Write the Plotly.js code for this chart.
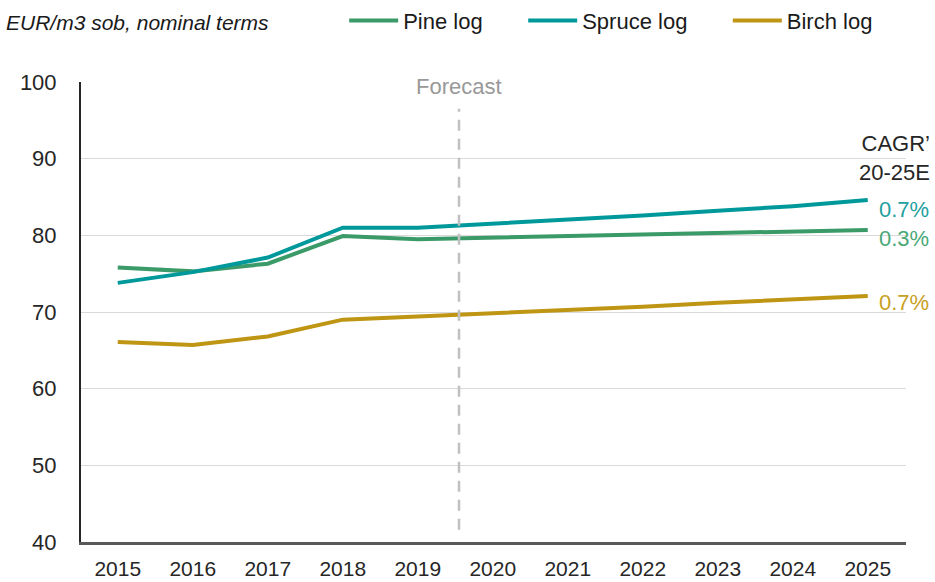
<!DOCTYPE html>
<html>
<head>
<meta charset="utf-8">
<script src="https://cdn.plot.ly/plotly-3.0.1.min.js"></script>
<style>html,body{margin:0;padding:0;background:#fff;}#chart{width:935px;height:582px;}</style>
</head>
<body>
<div id="chart"></div>
<script>
const years = [2015, 2016, 2017, 2018, 2019, 2020, 2021, 2022, 2023, 2024, 2025];
const pineLog   = [75.8, 75.3, 76.3, 79.9, 79.5, 79.7, 79.9, 80.1, 80.3, 80.5, 80.7];
const spruceLog = [73.8, 75.2, 77.1, 81.0, 81.0, 81.5, 82.0, 82.6, 83.2, 83.8, 84.6];
const birchLog  = [66.1, 65.7, 66.8, 69.0, 69.4, 69.8, 70.3, 70.7, 71.2, 71.7, 72.1];
const seriesNames = ["Pine log", "Spruce log", "Birch log"];
const cagrLabels = ["0.3%", "0.7%", "0.7%"];
const forecastStart = 2019.55;
const yTicks = [40, 50, 60, 70, 80, 90, 100];

const colPine = "#3a9a68", colSpruce = "#00999b", colBirch = "#bf9514";
const font = "Liberation Sans, Arial, sans-serif";

const traces = [
  {x: years, y: pineLog, name: seriesNames[0], mode: "lines", line: {color: colPine, width: 4}, legend: "legend"},
  {x: years, y: spruceLog, name: seriesNames[1], mode: "lines", line: {color: colSpruce, width: 4}, legend: "legend2"},
  {x: years, y: birchLog, name: seriesNames[2], mode: "lines", line: {color: colBirch, width: 4}, legend: "legend3"}
];

const legBase = {orientation: "h", yanchor: "middle", y: 1.133, xanchor: "left", itemwidth: 49,
  font: {family: font, size: 22, color: "#1a1a1a"}, bgcolor: "rgba(0,0,0,0)", borderwidth: 0};

const last = years.length - 1;
const layout = {
  width: 935, height: 582,
  margin: {l: 81, r: 29, t: 82, b: 39.5, autoexpand: false},
  paper_bgcolor: "#fff", plot_bgcolor: "#fff",
  font: {family: font, size: 21, color: "#262626"},
  showlegend: true,
  legend: Object.assign({}, legBase, {x: 0.319}),
  legend2: Object.assign({}, legBase, {x: 0.536}),
  legend3: Object.assign({}, legBase, {x: 0.784}),
  xaxis: {
    range: [2014.51, 2025.51], tickvals: years, ticktext: years.map(String),
    showgrid: false, zeroline: false, showline: true, linecolor: "#595959", linewidth: 2.5,
    ticks: "", ticklabelstandoff: 6, tickfont: {family: font, size: 21, color: "#262626"}
  },
  yaxis: {
    range: [40, 100], tickvals: yTicks, showgrid: true, gridcolor: "#d9d9d9", gridwidth: 1,
    zeroline: false, showline: true, linecolor: "#262626", linewidth: 2,
    ticks: "", ticklabelstandoff: 18, tickfont: {family: font, size: 22, color: "#262626"}
  },
  shapes: [
    {type: "line", xref: "x", yref: "y", x0: forecastStart, x1: forecastStart, y0: 41.6, y1: 96.5,
     line: {color: "#c0c0c0", width: 2.5, dash: "11px,8px"}}
  ],
  annotations: [
    {xref: "paper", yref: "paper", x: -0.093, y: 1.129, xanchor: "left", yanchor: "middle", showarrow: false,
     text: "<i>EUR/m3 sob, nominal terms</i>", font: {family: font, size: 21, color: "#1a1a1a"}},
    {xref: "x", yref: "y", x: forecastStart, y: 100, yshift: -4, xanchor: "center", yanchor: "middle", showarrow: false,
     text: "Forecast", font: {family: font, size: 22, color: "#999999"}},
    {xref: "paper", yref: "paper", x: 1.031, y: 0.835, xanchor: "right", yanchor: "middle", showarrow: false,
     text: "CAGR’<br>20-25E", align: "right", font: {family: font, size: 22, color: "#262626"}},
    {xref: "x", yref: "y", x: years[last], y: spruceLog[last], xshift: 9, yshift: -9, xanchor: "left", yanchor: "middle",
     showarrow: false, text: cagrLabels[1], font: {family: font, size: 22, color: "#1fa0a0"}},
    {xref: "x", yref: "y", x: years[last], y: pineLog[last], xshift: 9, yshift: -9, xanchor: "left", yanchor: "middle",
     showarrow: false, text: cagrLabels[0], font: {family: font, size: 22, color: "#48a877"}},
    {xref: "x", yref: "y", x: years[last], y: birchLog[last], xshift: 9, yshift: -7, xanchor: "left", yanchor: "middle",
     showarrow: false, text: cagrLabels[2], font: {family: font, size: 22, color: "#c8a024"}}
  ]
};

Plotly.newPlot("chart", traces, layout, {displayModeBar: false, staticPlot: true});
</script>
</body>
</html>
